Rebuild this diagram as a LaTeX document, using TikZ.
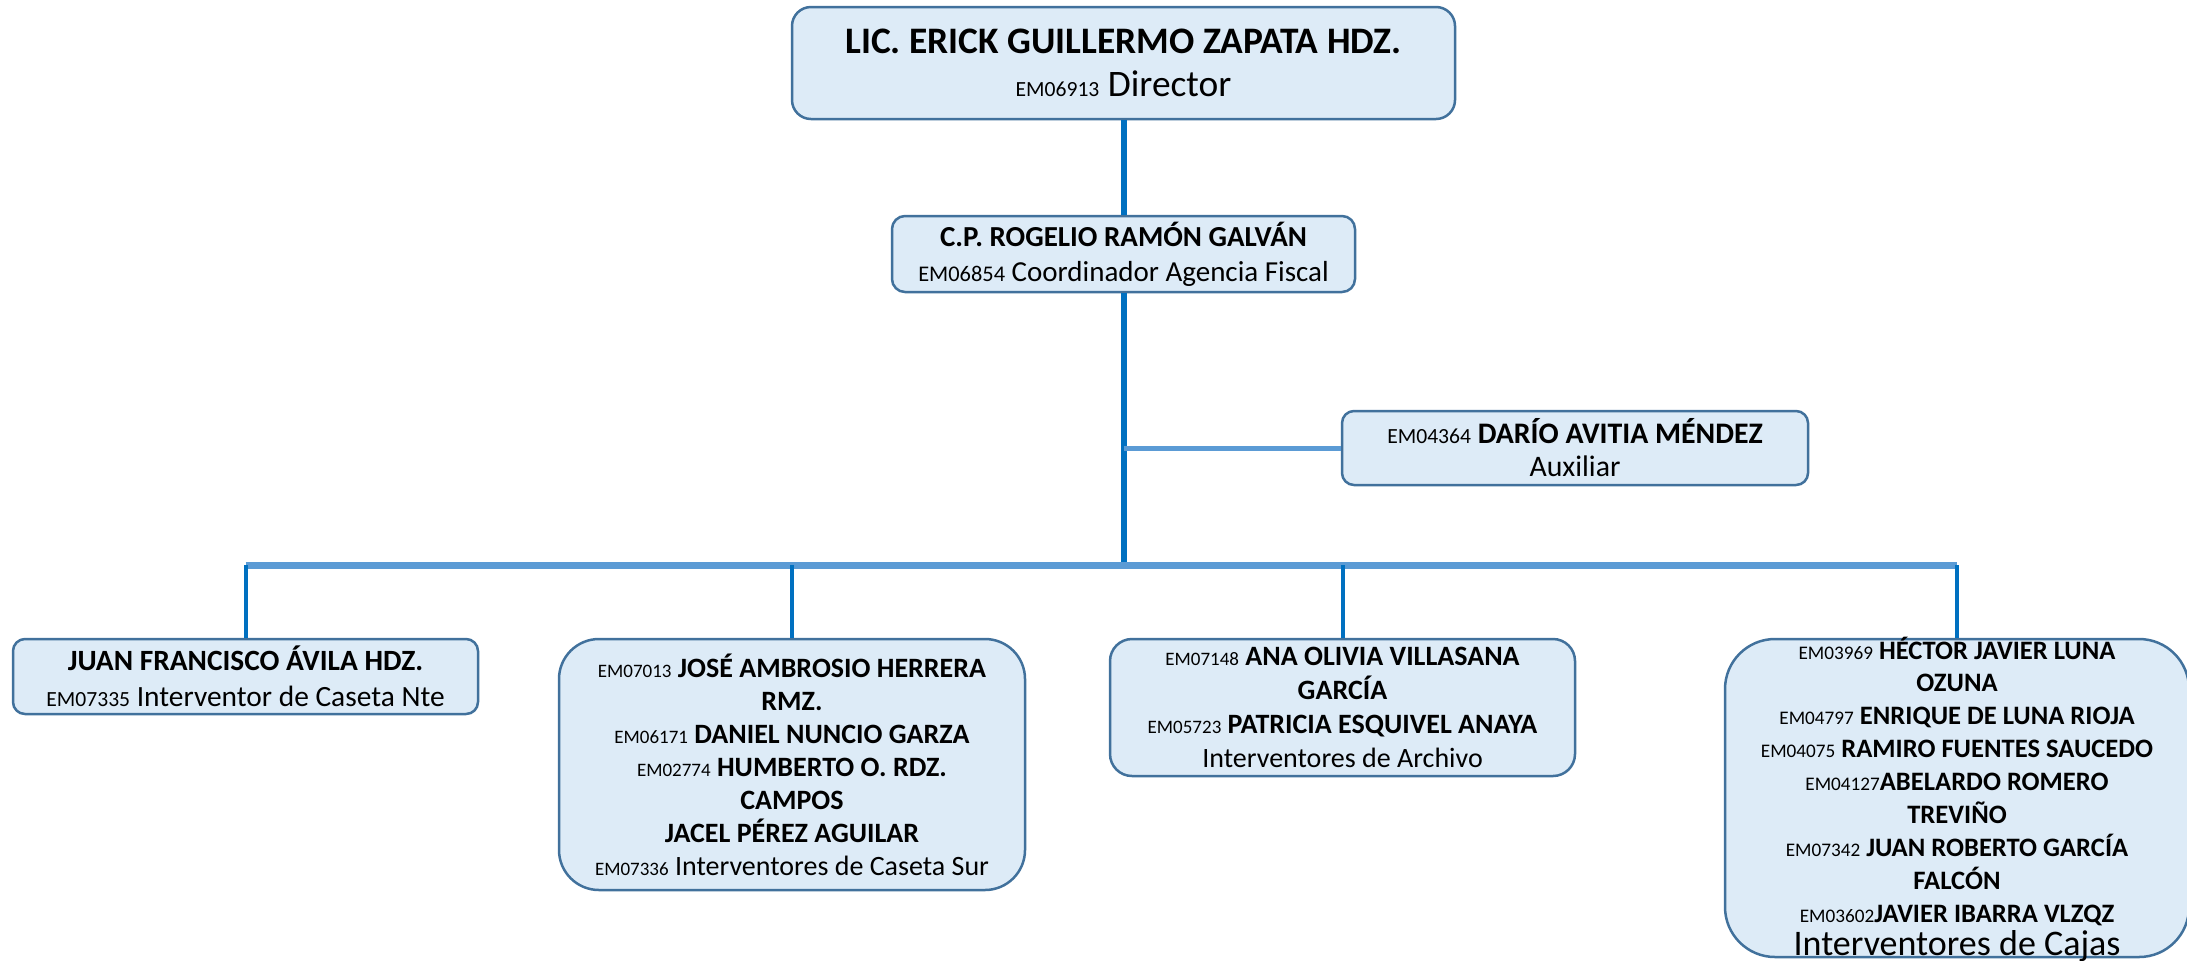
\documentclass[tikz,border=0pt]{standalone}
\usepackage{fontspec}
\setmainfont{Carlito}
\definecolor{boxfill}{RGB}{221,235,247}
\definecolor{boxline}{RGB}{65,113,156}
\definecolor{trunkblue}{RGB}{0,112,192}
\definecolor{busblue}{RGB}{91,155,213}
\newcommand{\emno}[2][10.8]{{\fontsize{#1}{13}\selectfont #2}}
\tikzset{
  person/.style={draw=boxline, line width=1.25pt, fill=boxfill, align=center, inner sep=0pt,
    font=\fontsize{14.7}{16.5}\selectfont},
  trunkline/.style={draw=trunkblue, line width=3pt},
  busline/.style={draw=busblue, line width=3.5pt},
  dropline/.style={draw=trunkblue, line width=2pt},
  auxline/.style={draw=busblue, line width=2.5pt},
}
\begin{document}
\begin{tikzpicture}[x=0.5pt,y=0.5pt,yscale=-1]
\path[use as bounding box] (0,0) rectangle (2187,960);

% Text Node
\node[person, minimum width=331.5pt, minimum height=56pt, rounded corners=9.5pt,
  font=\fontsize{18.7}{21.6}\selectfont] (director) at (1123.5,63)
  {\textbf{LIC. ERICK GUILLERMO ZAPATA HDZ.}\\ \emno{EM06913} Director};
% Text Node
\node[person, minimum width=231.5pt, minimum height=38pt, rounded corners=6.5pt,
  font=\fontsize{14.5}{17.5}\selectfont] (coordinador) at (1123.5,254)
  {\textbf{C.P. ROGELIO RAMÓN GALVÁN}\\ \emno[11.2]{EM06854} Coordinador Agencia Fiscal};
% Text Node
\node[person, minimum width=233pt, minimum height=37pt, rounded corners=6pt,
  font=\fontsize{14.9}{16.5}\selectfont] (auxiliar) at (1575,448)
  {\emno{EM04364} \textbf{DARÍO AVITIA MÉNDEZ}\\ Auxiliar};
% Text Node
\node[person, minimum width=232.5pt, minimum height=37.5pt, rounded corners=6pt,
  font=\fontsize{14.7}{18}\selectfont] (nte) at (245.5,676.5)
  {\textbf{JUAN FRANCISCO ÁVILA HDZ.}\\ \emno{EM07335} Interventor de Caseta Nte};
% Text Node
\node[person, minimum width=233pt, minimum height=125.5pt, rounded corners=20pt,
  font=\fontsize{14}{16.5}\selectfont] (sur) at (792,764.5)
  {\emno[9.5]{EM07013} \textbf{JOSÉ AMBROSIO HERRERA}\\ \textbf{RMZ.}\\
   \emno[9.5]{EM06171} \textbf{DANIEL NUNCIO GARZA}\\ \emno[9.5]{EM02774} \textbf{HUMBERTO O. RDZ.}\\
   \textbf{CAMPOS}\\ \textbf{JACEL PÉREZ AGUILAR}\\ \emno[9.5]{EM07336} Interventores de Caseta Sur};
% Text Node
\node[person, minimum width=232.5pt, minimum height=68.5pt, rounded corners=11pt,
  font=\fontsize{14}{17}\selectfont] (archivo) at (1342.5,707.5)
  {\emno[9.5]{EM07148} \textbf{ANA OLIVIA VILLASANA}\\ \textbf{GARCÍA}\\
   \emno[9.5]{EM05723} \textbf{PATRICIA ESQUIVEL ANAYA}\\ Interventores de Archivo};
% Shape: Rounded Rectangle
\node[person, minimum width=232pt, minimum height=159pt, rounded corners=25pt] (cajas) at (1957,798) {};
% Text Node
\node[align=center, inner sep=0pt, font=\fontsize{13.3}{16.45}\selectfont] (cajastxt) at (1957,799)
  {\emno[9.6]{EM03969} \textbf{HÉCTOR JAVIER LUNA}\\ \textbf{OZUNA}\\
   \emno[9.6]{EM04797} \textbf{ENRIQUE DE LUNA RIOJA}\\ \emno[9.6]{EM04075} \textbf{RAMIRO FUENTES SAUCEDO}\\
   \emno[9.6]{EM04127}\textbf{ABELARDO ROMERO}\\ \textbf{TREVIÑO}\\
   \emno[9.6]{EM07342} \textbf{JUAN ROBERTO GARCÍA}\\ \textbf{FALCÓN}\\
   \emno[9.6]{EM03602}\textbf{JAVIER IBARRA VLZQZ}\\ {\fontsize{18}{16.45}\selectfont Interventores de Cajas}};

\coordinate (bus) at (1123.5,565);

%Straight Lines
\draw[trunkline] (director.south) -- (coordinador.north);
\draw[trunkline] (coordinador.south) -- (bus);
%Straight Lines
\draw[auxline] (coordinador.south |- auxiliar.west) -- (auxiliar.west);
%Straight Lines
\draw[busline] (nte.north |- bus) -- (cajas.north |- bus);
\foreach \n in {nte,sur,archivo,cajas}
  \draw[dropline] (\n.north |- bus) -- (\n.north);

\end{tikzpicture}
\end{document}
